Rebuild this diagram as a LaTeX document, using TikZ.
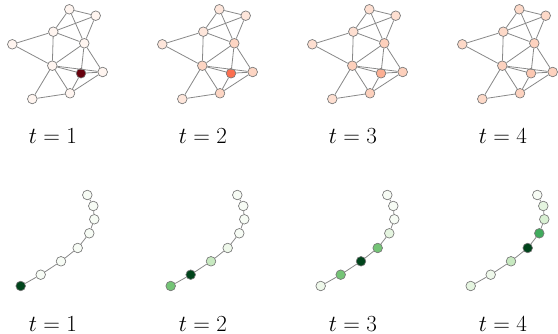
\documentclass[tikz,border=0pt]{standalone}
\usepackage{tikz}
\usetikzlibrary{positioning}
\definecolor{LinkGray}{RGB}{136,136,136}
\definecolor{RimGray}{RGB}{120,120,120}
% reds for the graph
\definecolor{RdK}{HTML}{67000D}
\definecolor{RdW}{HTML}{FFF5F0}
\definecolor{RdGb}{HTML}{FB6F50}
\definecolor{RdNb}{HTML}{FDD5C3}
\definecolor{RdOb}{HTML}{FEE6DB}
\definecolor{RdGc}{HTML}{FCAF93}
\definecolor{RdNc}{HTML}{FDD0BC}
\definecolor{RdOc}{HTML}{FEDFD1}
\definecolor{RdGd}{HTML}{FCC8B2}
\definecolor{RdNd}{HTML}{FDD2BF}
\definecolor{RdOd}{HTML}{FDD9C8}
% greens for the path
\definecolor{GrK}{HTML}{00441B}
\definecolor{GrW}{HTML}{F7FCF5}
\definecolor{GrM}{HTML}{74C476}
\definecolor{GrL}{HTML}{C7E9C0}
\definecolor{GrP}{HTML}{E5F5E0}
\definecolor{GrQ}{HTML}{EEF8EA}
\definecolor{GrS}{HTML}{41AB5D}
\definecolor{GrT}{HTML}{D9F0D3}
\tikzset{
  vtx/.style={circle, draw=RimGray, line width=0.5pt, inner sep=0pt, minimum size=7.2pt},
  link/.style={draw=LinkGray, line width=0.6pt},
  lbl/.style={inner sep=0pt, font=\fontsize{16}{18}\selectfont}
}

\begin{document}
\begin{tikzpicture}[x=0.75pt, y=-0.75pt]
\useasboundingbox (0,0) rectangle (558,334);

% top row: heat on the graph
\foreach \k/\ox/\cg/\cn/\co in {1/0/RdK/RdW/RdW, 2/150/RdGb/RdNb/RdOb, 3/300/RdGc/RdNc/RdOc, 4/450/RdGd/RdNd/RdOd}{
  \begin{scope}[shift={(\ox,0)}]
    \node[vtx, fill=\co] (a\k) at (69.3,9.3) {};
    \node[vtx, fill=\co] (b\k) at (95.7,15.7) {};
    \node[vtx, fill=\co] (c\k) at (53.3,31.7) {};
    \node[vtx, fill=\co] (d\k) at (12.3,44.3) {};
    \node[vtx, fill=\cn] (e\k) at (84.3,43.3) {};
    \node[vtx, fill=\cn] (f\k) at (52.3,65.7) {};
    \node[vtx, fill=\cg] (g\k) at (81,73.3) {};
    \node[vtx, fill=\cn] (h\k) at (102.7,72) {};
    \node[vtx, fill=\cn] (i\k) at (70,93.3) {};
    \node[vtx, fill=\co] (j\k) at (32.3,99) {};
    \foreach \u/\v in {a/b,a/c,c/b,a/e,b/e,c/d,c/e,c/f,d/f,e/f,e/g,e/h,f/g,f/h,f/i,f/j,j/i,i/g,i/h,g/h}
      \draw[link] (\u\k) -- (\v\k);
    \node[lbl] (top\k) at (53,136) {$t=\k$};
  \end{scope}
}

% bottom row: heat on the path
\foreach \k/\ox/\cols in {1/0/{"GrK","GrW","GrW","GrW","GrW","GrW","GrW","GrW"},
                          2/150/{"GrM","GrK","GrL","GrQ","GrW","GrW","GrW","GrW"},
                          3/300/{"GrQ","GrM","GrK","GrM","GrP","GrW","GrW","GrW"},
                          4/450/{"GrP","GrQ","GrL","GrK","GrS","GrT","GrP","GrW"}}{
  \begin{scope}[shift={(\ox,0)}]
    \foreach \px/\py [count=\j] in {20.7/286, 40.7/274.7, 61/261.3, 77.7/248, 89.3/233.3, 94.3/219.3, 93.3/206, 87.3/195}{
      \pgfmathsetmacro{\c}{{\cols}[\j-1]}
      \node[vtx, fill=\c] (p\k-\j) at (\px,\py) {};
    }
    \foreach \j [remember=\j as \i (initially 1)] in {2,...,8}
      \draw[link] (p\k-\i) -- (p\k-\j);
    \node[lbl] (bot\k) at (53,324) {$t=\k$};
  \end{scope}
}
\end{tikzpicture}
\end{document}
